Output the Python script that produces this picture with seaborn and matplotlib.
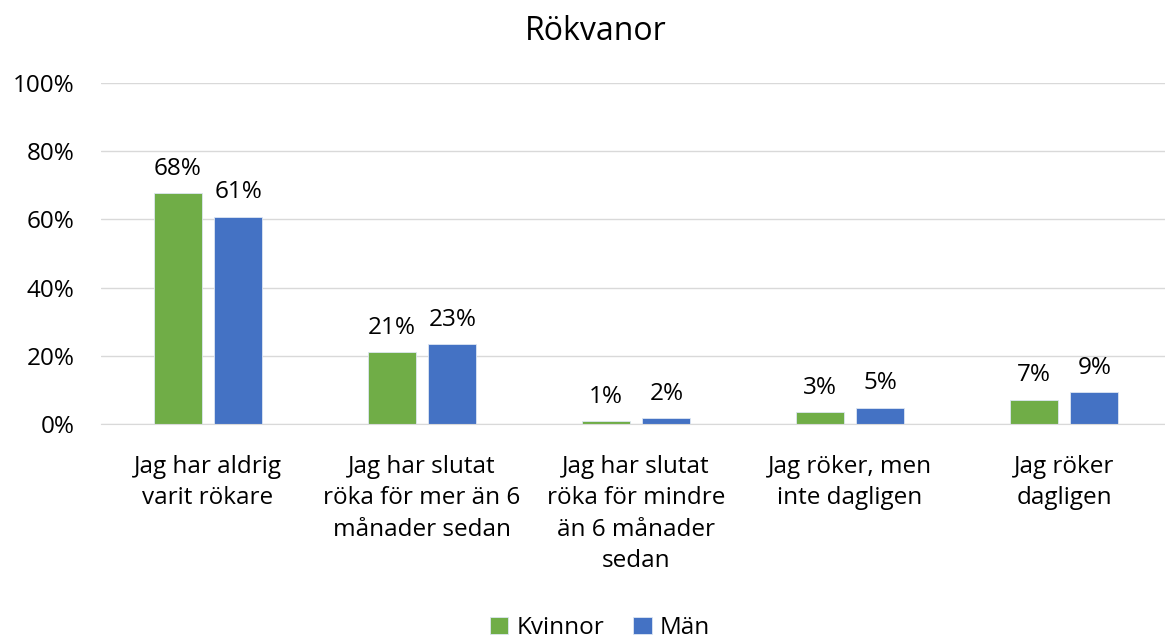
import matplotlib
matplotlib.use("Agg")
import matplotlib.pyplot as plt
import seaborn as sns
import pandas as pd
from matplotlib.ticker import PercentFormatter

categories = [
    "Jag har aldrig\nvarit rökare",
    "Jag har slutat\nröka för mer än 6\nmånader sedan",
    "Jag har slutat\nröka för mindre\nän 6 månader\nsedan",
    "Jag röker, men\ninte dagligen",
    "Jag röker\ndagligen",
]
kvinnor = [67.7, 21.1, 0.8, 3.4, 7.1]
man = [60.8, 23.4, 1.7, 4.8, 9.3]
series = ["Kvinnor", "Män"]
colors = ["#70AD47", "#4472C4"]

df = pd.DataFrame({
    "cat": categories * 2,
    "val": kvinnor + man,
    "serie": [series[0]] * 5 + [series[1]] * 5,
})

sns.set_style("white")
plt.rcParams["font.family"] = ["Open Sans", "DejaVu Sans"]
plt.rcParams["text.color"] = "black"

fig = plt.figure(figsize=(11.65, 6.39), dpi=100)
ax = fig.add_axes([101 / 1165, 1 - 424 / 639, 1070 / 1165, 341 / 639])
sns.barplot(data=df, x="cat", y="val", hue="serie", palette=colors,
            saturation=1, width=0.570, gap=0.213, ax=ax, legend=True,
            edgecolor="#DDE6F2", linewidth=0.6)

ax.set_ylim(0, 100)
ax.set_xlim(-0.5, 4.5)
ax.set_yticks(range(0, 101, 20))
ax.yaxis.set_major_formatter(PercentFormatter(decimals=0))
ax.grid(axis="y", color="#D9D9D9", linewidth=1)
ax.set_axisbelow(True)
for s in ["top", "right", "left"]:
    ax.spines[s].set_visible(False)
ax.spines["bottom"].set_color("#D9D9D9")
ax.tick_params(axis="both", length=0, labelsize=17.5, colors="#000000")
ax.tick_params(axis="x", pad=22)
ax.tick_params(axis="y", pad=19)
ax.set_xlabel("")
ax.set_ylabel("")
for lab in ax.get_xticklabels():
    lab.set_verticalalignment("top")
    lab.set_linespacing(1.42)

for cont in ax.containers:
    ax.bar_label(cont, fmt="%.0f%%", padding=9, fontsize=17.5, color="black")

fig.text(0.511, 0.95, "Rökvanor", fontsize=23, ha="center", va="center",
         color="black")

leg = ax.legend(loc="center", bbox_to_anchor=(600 / 1165, 11 / 639),
                bbox_transform=fig.transFigure, ncol=2,
                frameon=False, fontsize=17.5, handlelength=0.75, handleheight=0.75,
                handletextpad=0.35, columnspacing=1.2)
for t in leg.get_texts():
    t.set_color("black")

fig.savefig("out.png", dpi=100)
